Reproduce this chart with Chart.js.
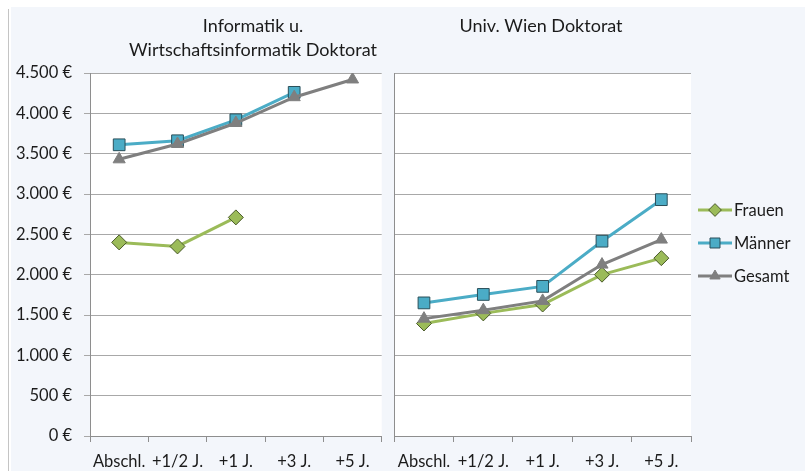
<!DOCTYPE html>
<html><head><meta charset="utf-8">
<script src="https://cdn.jsdelivr.net/npm/chart.js@4.4.0/dist/chart.umd.min.js"></script>
<style>
html,body{margin:0;padding:0;background:#fff;width:805px;height:471px;overflow:hidden;}
#bg{position:absolute;left:11px;top:7px;width:794px;height:464px;background:#F3F6FB;}
#edge{position:absolute;left:8px;top:9px;width:1px;height:462px;background:#C4C4C4;}
canvas{position:absolute;top:7px;}
#c1{left:11px;} #c2{left:385px;}
</style></head><body>
<div id="bg"></div><div id="edge"></div>
<canvas id="c1" width="380" height="464"></canvas>
<canvas id="c2" width="420" height="464"></canvas>
<script>
// ---- data ----
const categories = ['Abschl.', '+1/2 J.', '+1 J.', '+3 J.', '+5 J.'];
const seriesNames = ['Frauen', 'Männer', 'Gesamt'];
const titleLeft = ['Informatik u.', 'Wirtschaftsinformatik Doktorat'];
const titleRight = ['Univ. Wien Doktorat'];
const infoFrauen  = [2400, 2350, 2710, null, null];
const infoMaenner = [3610, 3660, 3920, 4260, null];
const infoGesamt  = [3430, 3620, 3880, 4200, 4420];
const wienFrauen  = [1395, 1520, 1630, 2000, 2205];
const wienMaenner = [1650, 1755, 1855, 2415, 2930];
const wienGesamt  = [1455, 1560, 1675, 2125, 2435];
const yMin = 0, yMax = 4500, yStep = 500;

// ---- style ----
const FONT = 'Lato';
const TXT = '#1b1b1b';
const GRID = '#A8A8A8';
const AXIS = '#8E8E8E';
const BG = '#F3F6FB';
Chart.defaults.font.family = FONT;
Chart.defaults.color = TXT;

function fmt(v){
  const s = String(Math.round(v));
  return s.replace(/\B(?=(\d{3})+(?!\d))/g, '.') + ' €';
}

function makeDatasets(f, m, g){
  return [
    {label: seriesNames[0], data: f, borderColor:'#9BBB59', backgroundColor:'#9BBB59',
     pointStyle:'rectRot', pointRadius:7.5, pointBorderColor:'#4A5A2A', pointBackgroundColor:'#9BBB59',
     pointBorderWidth:1, borderWidth:3, order:2},
    {label: seriesNames[1], data: m, borderColor:'#4BACC6', backgroundColor:'#4BACC6',
     pointStyle:'rect', pointRadius:8.3, pointBorderColor:'#2A4F5A', pointBackgroundColor:'#4BACC6',
     pointBorderWidth:1, borderWidth:3, order:1},
    {label: seriesNames[2], data: g, borderColor:'#7F7F7F', backgroundColor:'#7F7F7F',
     pointStyle:'triangle', pointRadius:7, pointBorderColor:'#7F7F7F', pointBackgroundColor:'#7F7F7F',
     pointBorderWidth:1, borderWidth:3, order:0}
  ];
}

const bgPlugin = {
  id:'bgPlugin',
  beforeDraw(chart, args, opts){
    const ctx = chart.ctx, a = chart.chartArea;
    ctx.save();
    if (opts.full){ ctx.fillStyle = BG; ctx.fillRect(0,0,chart.width,chart.height); }
    ctx.fillStyle = '#FFFFFF';
    ctx.fillRect(a.left, a.top, a.right-a.left, a.bottom-a.top);
    ctx.restore();
  }
};

const titlePlugin = {
  id:'titlePlugin',
  afterDraw(chart, args, opts){
    const ctx = chart.ctx;
    ctx.save();
    ctx.font = '18px ' + FONT;
    ctx.fillStyle = TXT;
    ctx.textAlign = 'center';
    ctx.textBaseline = 'alphabetic';
    opts.lines.forEach((t,i)=>ctx.fillText(t, opts.x, opts.y + i*23.7));
    ctx.restore();
  }
};

const legendPlugin = {
  id:'legendPlugin',
  afterDraw(chart, args, opts){
    if (!opts.show) return;
    const ctx = chart.ctx;
    chart.data.datasets.forEach((ds, i)=>{
      const y = opts.y + i*opts.gap;
      ctx.save();
      ctx.strokeStyle = ds.borderColor; ctx.lineWidth = 3;
      ctx.beginPath(); ctx.moveTo(opts.x, y); ctx.lineTo(opts.x+opts.len, y); ctx.stroke();
      ctx.restore();
      ctx.save();
      ctx.fillStyle = ds.pointBackgroundColor; ctx.strokeStyle = ds.pointBorderColor; ctx.lineWidth = 1;
      ctx.beginPath();
      const cx = opts.x+opts.len/2, r = ds.pointRadius*0.85;
      if (ds.pointStyle==='rect'){ const s=r*Math.SQRT1_2; ctx.rect(cx-s,y-s,2*s,2*s); }
      else if (ds.pointStyle==='rectRot'){ ctx.moveTo(cx-r,y); ctx.lineTo(cx,y-r); ctx.lineTo(cx+r,y); ctx.lineTo(cx,y+r); ctx.closePath(); }
      else { const h=r*Math.sin(Math.PI/3); ctx.moveTo(cx, y-r); ctx.lineTo(cx+h, y+r/2); ctx.lineTo(cx-h, y+r/2); ctx.closePath(); }
      ctx.fill(); ctx.stroke();
      ctx.restore();
      ctx.save();
      ctx.font = '16.5px ' + FONT; ctx.fillStyle = TXT;
      ctx.textAlign='left'; ctx.textBaseline='middle';
      ctx.fillText(ds.label, opts.x+opts.len+2, y+1);
      ctx.restore();
    });
  }
};

function baseOptions(showY, padRight, titleOpts, legendOpts, fullBg){
  return {
    responsive:false, animation:false, devicePixelRatio:1,
    layout:{padding:{left:0, right:padRight, top:66, bottom:0}},
    plugins:{
      legend:{display:false}, title:{display:false}, tooltip:{enabled:false},
      bgPlugin:{full:fullBg}, titlePlugin:titleOpts, legendPlugin:legendOpts
    },
    scales:{
      x:{
        type:'category', offset:true,
        grid:{offset:true, drawOnChartArea:false, drawTicks:true, tickLength:6, color:AXIS},
        border:{display:true, color:AXIS, width:1},
        ticks:{font:{size:16.5}, color:TXT, padding:10, maxRotation:0, autoSkip:false},
        afterFit(s){ s.height = 35; }
      },
      y:{
        min:yMin, max:yMax,
        grid:{color:GRID, lineWidth:1, drawTicks:showY, tickLength:6},
        border:{display:true, color:AXIS, width:1},
        ticks:{display:showY, stepSize:yStep, font:{size:16.5}, color:TXT, padding:12, callback:(v)=>fmt(v)},
        afterFit(s){ s.width = showY ? 79 : 6; }
      }
    }
  };
}

new Chart(document.getElementById('c1'), {
  type:'line',
  data:{labels:categories, datasets:makeDatasets(infoFrauen, infoMaenner, infoGesamt)},
  options: baseOptions(true, 1, {lines:titleLeft, x:242, y:25}, {show:false}, false),
  plugins:[bgPlugin, titlePlugin, legendPlugin]
});

new Chart(document.getElementById('c2'), {
  type:'line',
  data:{labels:categories, datasets:makeDatasets(wienFrauen, wienMaenner, wienGesamt)},
  options: baseOptions(false, 114, {lines:titleRight, x:156, y:25}, {show:true, x:313, y:203, gap:33, len:34}, true),
  plugins:[bgPlugin, titlePlugin, legendPlugin]
});
</script>
</body></html>
